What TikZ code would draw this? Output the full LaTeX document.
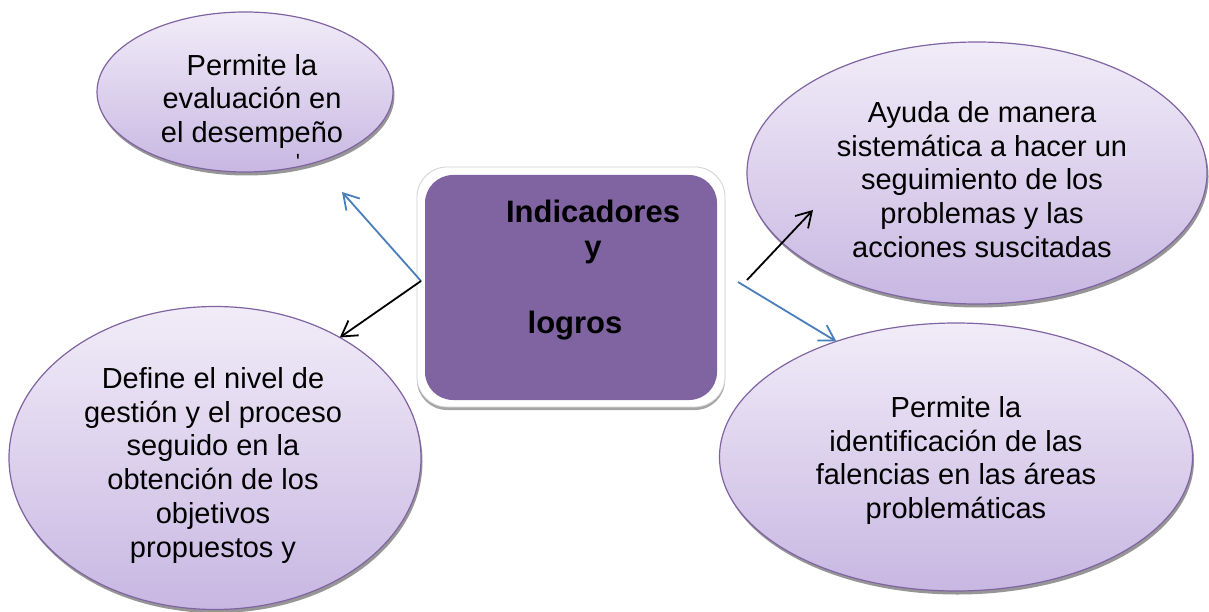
\documentclass[tikz,border=0pt]{standalone}
\usepackage{fontspec}
\setmainfont{Liberation Sans}
\usetikzlibrary{shapes.geometric,arrows.meta,shadows}
\definecolor{lavTop}{RGB}{241,236,248}
\definecolor{lavBot}{RGB}{200,183,226}
\definecolor{lavLine}{RGB}{128,100,162}
\definecolor{boxPurple}{RGB}{128,100,162}
\definecolor{arrowBlue}{RGB}{74,126,187}
\tikzset{
  bubble/.style={ellipse, draw=lavLine, line width=1.2pt, top color=lavTop, bottom color=lavBot,
    inner sep=0pt, outer sep=0pt,
    drop shadow={shadow xshift=1.5pt, shadow yshift=-3.5pt, fill=black!55, opacity=.75}},
  bubbletext/.style={anchor=north, align=center, inner sep=0pt, font=\fontsize{29}{33.8}\selectfont},
  frame/.style={rectangle, rounded corners=30pt, fill=white, draw=black!18, line width=0.8pt,
    inner sep=0pt, drop shadow={shadow xshift=0pt, shadow yshift=-3pt, fill=black!50, opacity=.7}},
  centerbox/.style={rectangle, rounded corners=28pt, fill=boxPurple, draw=none, inner sep=0pt},
  boxtext/.style={anchor=north, align=center, inner sep=0pt, font=\bfseries\fontsize{31}{35}\selectfont},
  conn/.style={line width=1.8pt, -{Straight Barb[length=15pt,width=18pt,line width=1.8pt]}},
}
\begin{document}
\begin{tikzpicture}[x=1pt,y=-1pt]
\useasboundingbox[fill=white] (0,0) rectangle (1209,612);

% ellipses
\node[bubble, minimum width=296pt, minimum height=160pt] (tl) at (245,92) {};
\node[bubble, minimum width=460pt, minimum height=262pt] (tr) at (977,173) {};
\node[bubble, minimum width=473pt, minimum height=268pt] (br) at (956,457) {};
\node[bubble, minimum width=412pt, minimum height=303pt] (bl) at (215,458) {};

% texts
\node[bubbletext] (tlt) at (252,53) {\rule{0pt}{22pt}Permite la\\evaluación en\\el desempeño};
\node[inner sep=0pt, font=\fontsize{22}{22}\selectfont] (tltick) at (298,162) {\textquotesingle};
\node[bubbletext] (trt) at (982,100) {\rule{0pt}{22pt}Ayuda de manera\\sistemática a hacer un\\seguimiento de los\\problemas y las\\acciones suscitadas};
\node[bubbletext] (brt) at (956,395) {\rule{0pt}{22pt}Permite la\\identificación de las\\falencias en las áreas\\problemáticas};
\node[bubbletext] (blt) at (213,366) {\rule{0pt}{22pt}Define el nivel de\\gestión y el proceso\\seguido en la\\obtención de los\\objetivos\\propuestos y};

% central box
\node[frame, minimum width=308pt, minimum height=240pt] (cframe) at (571,287) {};
\node[centerbox, minimum width=292pt, minimum height=225pt] (c) at (571,287.5) {};
\node[boxtext] (ct) at (593,200) {\rule{0pt}{22pt}Indicadores\\y\\[41pt]logros\hspace*{36pt}};

% connector ends
\coordinate (cl) at (421,281);
\coordinate (cr1) at (747,280);
\coordinate (cr2) at (738,282);
\coordinate (tltip) at (342,192);
\coordinate (trtip) at (813,210);

\draw[conn, arrowBlue] (cl) -- (tltip);
\draw[conn, black] (cl) -- (bl.44);
\draw[conn, black] (cr1) -- (trtip);
\draw[conn, arrowBlue] (cr2) -- (br.136);
\end{tikzpicture}
\end{document}
